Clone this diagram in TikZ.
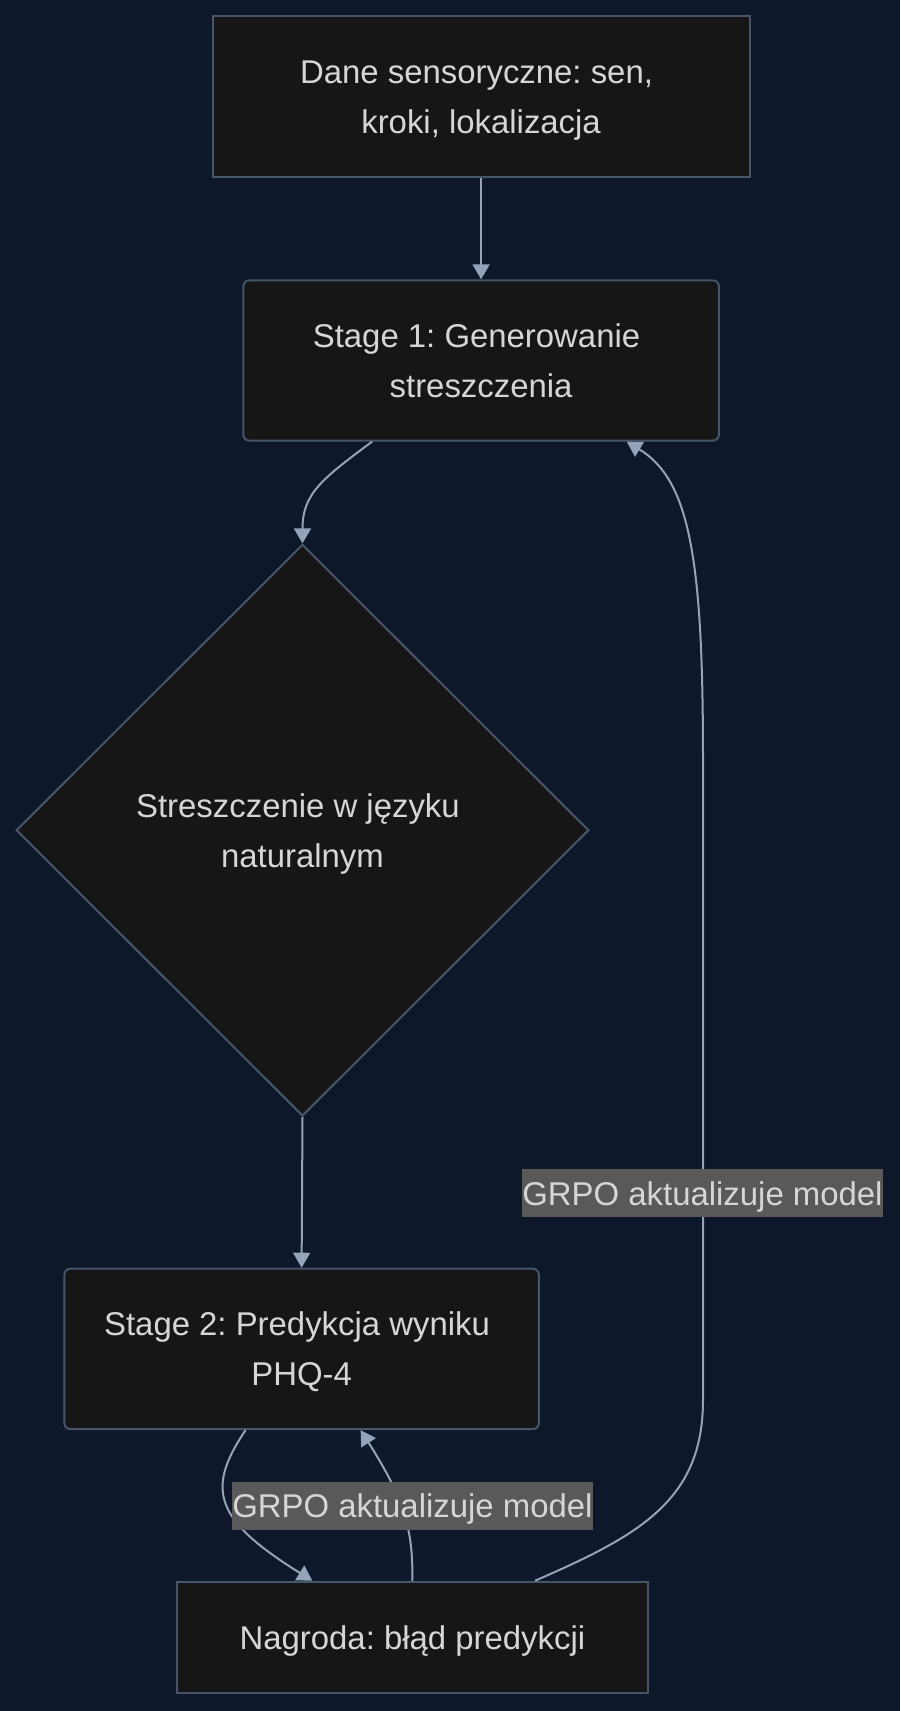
\documentclass[tikz,border=0pt]{standalone}
\usepackage{fontspec}
\setmainfont{Liberation Sans}
\frenchspacing
\usetikzlibrary{arrows.meta,shapes.geometric,calc}
\definecolor{bgcol}{HTML}{0F172A}
\definecolor{nodefill}{HTML}{161616}
\definecolor{nodeline}{HTML}{475569}
\definecolor{edgecol}{HTML}{94A3B8}
\definecolor{txtcol}{HTML}{D6D6D6}
\definecolor{lblfill}{HTML}{595959}
\newcommand{\lnstrut}{\rule[-13pt]{0pt}{50pt}}
\newcommand{\trsp}{\kern9.1pt}
\begin{document}
\begin{tikzpicture}[x=1pt,y=-1pt,
  base/.style={draw=nodeline,fill=nodefill,line width=2pt,text=txtcol,align=center,
    font=\fontsize{32.9}{50}\selectfont,inner sep=0pt},
  sqbox/.style={base,rectangle},
  rbox/.style={base,rectangle,rounded corners=6pt},
  decision/.style={base,diamond},
  edge/.style={draw=edgecol,line width=2pt,-{Triangle[width=17pt,length=15pt]}},
  lbl/.style={fill=lblfill,text=txtcol,inner xsep=0pt,inner ysep=0pt,minimum height=48pt,
    text height=27pt,text depth=3pt,font=\fontsize{32.9}{50}\selectfont}]
\fill[bgcol] (0,0) rectangle (900,1711);
\useasboundingbox (0,0) rectangle (900,1711);

\node[sqbox,minimum width=536.8pt,minimum height=160.3pt] (a) at (481.1,96.5)
  {\lnstrut Dane sensoryczne: sen,\trsp\\\lnstrut kroki, lokalizacja};
\node[rbox,minimum width=475.6pt,minimum height=160.3pt] (b) at (481.1,360.5)
  {\lnstrut Stage 1: Generowanie\trsp\\\lnstrut streszczenia};
\node[decision,minimum width=572.6pt,minimum height=571.6pt] (c) at (302.5,830.2)
  {\lnstrut Streszczenie w języku\trsp\\\lnstrut naturalnym};
\node[rbox,minimum width=474.5pt,minimum height=160.4pt] (d) at (301.6,1348.9)
  {\lnstrut Stage 2: Predykcja wyniku\trsp\\\lnstrut PHQ-4};
\node[sqbox,minimum width=471.3pt,minimum height=111.3pt] (e) at (412.4,1637.4)
  {\lnstrut Nagroda: błąd predykcji};

\draw[edge] (a.south) -- (b.north);
\draw[edge] ([xshift=-109pt]b.south) .. controls (320,480) and (302.5,495) .. (c.north);
\draw[edge] (c.south) -- (d.north);
\draw[edge] ([xshift=-56pt]d.south) .. controls (205,1490) and (215,1520) .. ([xshift=-100pt]e.north);
\draw[edge] (e.north) .. controls (413,1530) and (405,1500) .. ([xshift=59pt]d.south);
\coordinate (r1) at (703,1400);
\coordinate (r2) at (703,760);
\draw[edge] ([xshift=122.6pt]e.north) .. controls (640,1535) and (703,1500) .. (r1)
  -- (r2) .. controls (703,560) and (690,480) .. ([xshift=145.6pt]b.south);

\node[lbl] (l1) at (702.5,1193) {GRPO aktualizuje model};
\node[lbl] (l2) at (412.4,1505.5) {GRPO aktualizuje model};
\end{tikzpicture}
\end{document}
